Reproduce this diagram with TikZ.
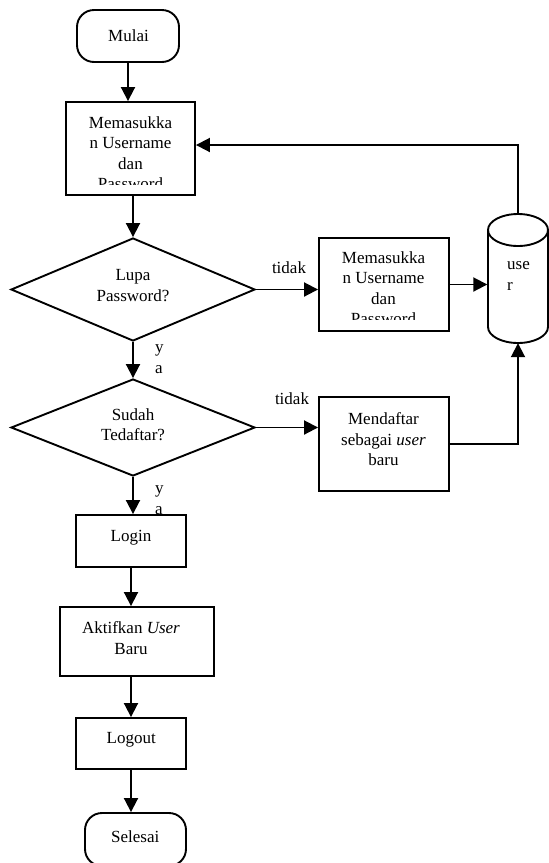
\documentclass[tikz,border=0pt]{standalone}
\usepackage{fontspec}
\setmainfont{Liberation Serif}
\usetikzlibrary{shapes.geometric,arrows.meta,calc}
\begin{document}
\begin{tikzpicture}[x=1pt,y=-1pt,
  every node/.style={font=\fontsize{17}{20.5}\selectfont},
  shp/.style={draw, line width=1.9pt, inner sep=0pt},
  proc/.style={shp, rectangle},
  term/.style={shp, rectangle, rounded corners=17pt},
  dec/.style={shp, diamond},
  txt/.style={inner sep=0pt, align=center},
  arr/.style={line width=1.9pt, -{Triangle[width=14pt,length=14pt]}},
  ln/.style={line width=1.9pt},
]
\useasboundingbox (0,0) rectangle (549,863);
\clip (0,0) rectangle (549,863);

% shapes
\node[term, minimum width=102pt, minimum height=52pt] (mulai) at (128,36) {};
\node[proc, minimum width=129pt, minimum height=93pt] (b1) at (130.5,148.5) {};
\node[dec, minimum width=244pt, minimum height=103pt] (d1) at (133,289.5) {};
\node[proc, minimum width=130pt, minimum height=93pt] (b2) at (384,284.5) {};
\node[inner sep=0pt, minimum width=61pt, minimum height=129pt] (db) at (518,278.5) {};
\node[dec, minimum width=244pt, minimum height=97pt] (d2) at (133,427.5) {};
\node[proc, minimum width=130pt, minimum height=94pt] (b3) at (384,444) {};
\node[proc, minimum width=110pt, minimum height=52pt] (login) at (131,541) {};
\node[proc, minimum width=154pt, minimum height=69pt] (akt) at (137,641.5) {};
\node[proc, minimum width=110pt, minimum height=51pt] (logout) at (131,743.5) {};
\node[term, minimum width=101pt, minimum height=53pt] (sel) at (135.5,839.5) {};

% cylinder (database)
\draw[ln] (518,230) ellipse [x radius=30, y radius=16];
\draw[ln] (488,230) -- (488,327) arc[start angle=180, end angle=0, x radius=30, y radius=16] -- (548,230);

% texts
\node[txt] (mulait) at (128.5,36) {Mulai};
\begin{scope}
  \clip (66,102) rectangle (195,184);
  \node[txt] (b1t) at (130.5,153) {Memasukka\\n Username\\dan\\Password};
\end{scope}
\node[txt] (d1t) at (133,285.5) {Lupa\\Password?};
\begin{scope}
  \clip (319,238) rectangle (449,319);
  \node[txt] (b2t) at (383.5,288) {Memasukka\\n Username\\dan\\Password};
\end{scope}
\node[txt, align=left, anchor=west] (dbt) at (507,276) {use\\r};
\node[txt] (d2t) at (133,424.5) {Sudah\\Tedaftar?};
\node[txt] (b3t) at (383.5,439.5) {Mendaftar\\sebagai \textit{user}\\baru};
\node[txt] (logint) at (131,538) {Login};
\node[txt] (aktt) at (131,638) {Aktifkan \textit{User}\\Baru};
\node[txt] (logoutt) at (131.3,740) {Logout};
\node[txt] (selt) at (135.3,837) {Selesai};

% edge labels
\node[txt] (tidak1) at (289,268) {tidak};
\node[txt] (tidak2) at (292,399) {tidak};
\node[txt, align=left, anchor=west] (ya1) at (155,359) {y\\a};
\node[txt, align=left, anchor=west] (ya2) at (155,500) {y\\a};

% connectors
\draw[arr] (mulai.south) -- (mulai.south |- b1.north);
\draw[arr] (b1.south -| d1.north) -- (d1.north);
\draw[arr] (d1.east) -- (d1.east -| b2.west);
\draw[arr] (b2.east) -- (b2.east -| db.west);
\draw[arr] (db.north) |- ([yshift=3.5pt]b1.east);
\draw[arr] (d1.south) -- (d2.north);
\draw[arr] (d2.east) -- (d2.east -| b3.west);
\draw[arr] (b3.east) -| (db.south);
\draw[arr] (d2.south) -- (d2.south |- login.north);
\draw[arr] (login.south) -- (login.south |- akt.north);
\draw[arr] (logout.north |- akt.south) -- (logout.north);
\draw[arr] (logout.south) -- (logout.south |- sel.north);
\end{tikzpicture}
\end{document}
